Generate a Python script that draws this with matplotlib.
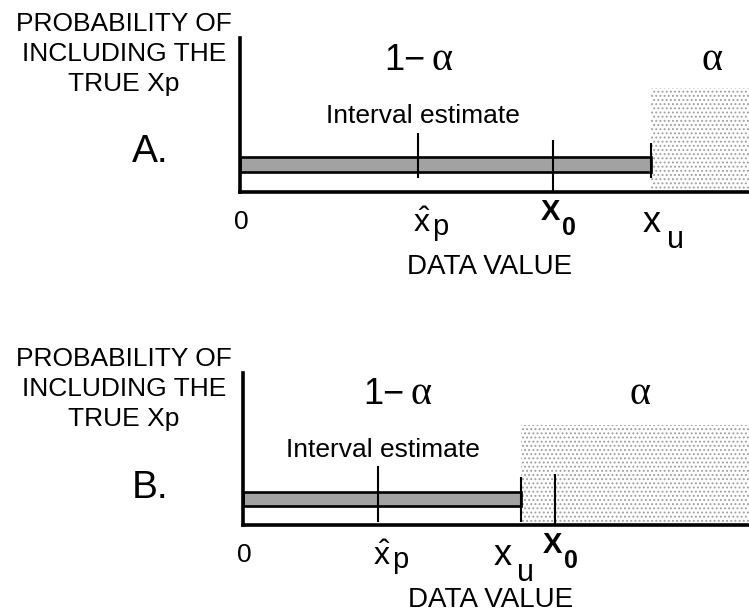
import matplotlib.pyplot as plt
from matplotlib.patches import Rectangle

plt.rcParams['font.family'] = ['Liberation Sans', 'DejaVu Sans']
plt.rcParams['mathtext.fontset'] = 'custom'
plt.rcParams['mathtext.rm'] = 'Liberation Sans'
plt.rcParams['mathtext.it'] = 'Liberation Serif'
plt.rcParams['mathtext.bf'] = 'Liberation Sans:bold'
plt.rcParams['hatch.linewidth'] = 0.9

# two panels, x on a 0..10 "data value" scale, y on 0..1
panels = ['A.', 'B.']
xhat = [3.5, 2.67]      # point estimate
x0 = [6.15, 6.17]       # the value X0
xu = [8.07, 5.5]        # upper bound of interval estimate
alpha_top = [0.675, 0.66]
bar_low = [0.13, 0.125]
bar_high = [0.227, 0.217]
ylabel = 'PROBABILITY OF\nINCLUDING THE\nTRUE Xp'

W, H = 749, 612
fig = plt.figure(figsize=(W / 100, H / 100), dpi=100)

# axes placement in pixels: left, top, bottom
boxes = [(240, 38, 192), (243, 373, 525)]
xu_shift = [-8, -28]
one_minus_x = [3.65, 3.2]
alpha_x = [9.27, 7.85]
serif = ['Liberation Serif', 'DejaVu Serif']

for i in range(2):
    l, t, b = boxes[i]
    ax = fig.add_axes([l / W, 1 - b / H, 1 - l / W, (b - t) / H])
    ax.set_xlim(0, 10)
    ax.set_ylim(0, 1)
    ax.patch.set_visible(False)
    for s in ['top', 'right']:
        ax.spines[s].set_visible(False)
    for s in ['left', 'bottom']:
        ax.spines[s].set_linewidth(2.6)
    ax.set_xticks([])
    ax.set_yticks([])

    # alpha region (stippled)
    ax.add_patch(Rectangle((xu[i], 0), 10 - xu[i], alpha_top[i], facecolor='white',
                           edgecolor='#a0a0a0', hatch='....', lw=0, zorder=1))
    # interval estimate bar
    ax.add_patch(Rectangle((0, bar_low[i]), xu[i], bar_high[i] - bar_low[i],
                           facecolor='#a2a2a2', edgecolor='black', lw=1.9, zorder=2))
    vl_bot = 0.091 if i == 0 else 0.02
    ax.vlines(xhat[i], vl_bot, 0.385, color='black', lw=1.5, zorder=3)
    ax.vlines(xu[i], vl_bot, 0.315, color='black', lw=1.5, zorder=3)
    ax.vlines(x0[i], 0, 0.335, color='black', lw=1.5, zorder=3)

    ax.text(one_minus_x[i], 0.795, '1\u2212', fontsize=26, ha='right', va='baseline')
    ax.text(one_minus_x[i] + 0.12, 0.795, '\u03b1', fontsize=29, ha='left', va='baseline',
            family=serif)
    ax.text(alpha_x[i], 0.795, '\u03b1', fontsize=29, ha='center', va='baseline', family=serif)
    ax.text(xhat[i] + 0.1, 0.447, 'Interval estimate', fontsize=19, ha='center', va='baseline')

    tr = ax.get_xaxis_transform()
    def lab(x, s, dx, dy, size, ha='left', weight='normal'):
        ax.annotate(s, xy=(x, 0), xycoords=tr, xytext=(dx, -dy), textcoords='offset pixels',
                    fontsize=size, ha=ha, va='baseline', fontweight=weight)

    lab(0, '0', 1, 37, 19, ha='center')
    lab(xhat[i], r'$\hat{\mathrm{x}}$', -5, 40, 23)
    lab(xhat[i], 'p', 14, 43, 21)
    lab(x0[i], 'X', -12, 28, 21, weight='bold')
    lab(x0[i], '0', 9, 43, 18, weight='bold')
    lab(xu[i], 'x', xu_shift[i], 40, 26)
    lab(xu[i], 'u', xu_shift[i] + 24, 56, 22)
    ax.annotate('DATA VALUE', xy=(0.49, 0), xycoords='axes fraction', xytext=(0, -82),
                textcoords='offset pixels', fontsize=20, ha='center', va='baseline')

    fig.text(150 / W, 1 - (b - 30 + (0 if i == 0 else 3)) / H, panels[i], fontsize=28,
             ha='center', va='baseline')
    fig.text(124 / W, 1 - (t + 16) / H, ylabel, fontsize=19, ha='center', va='center',
             linespacing=1.32, multialignment='center')

fig.savefig('out.png', dpi=100)
